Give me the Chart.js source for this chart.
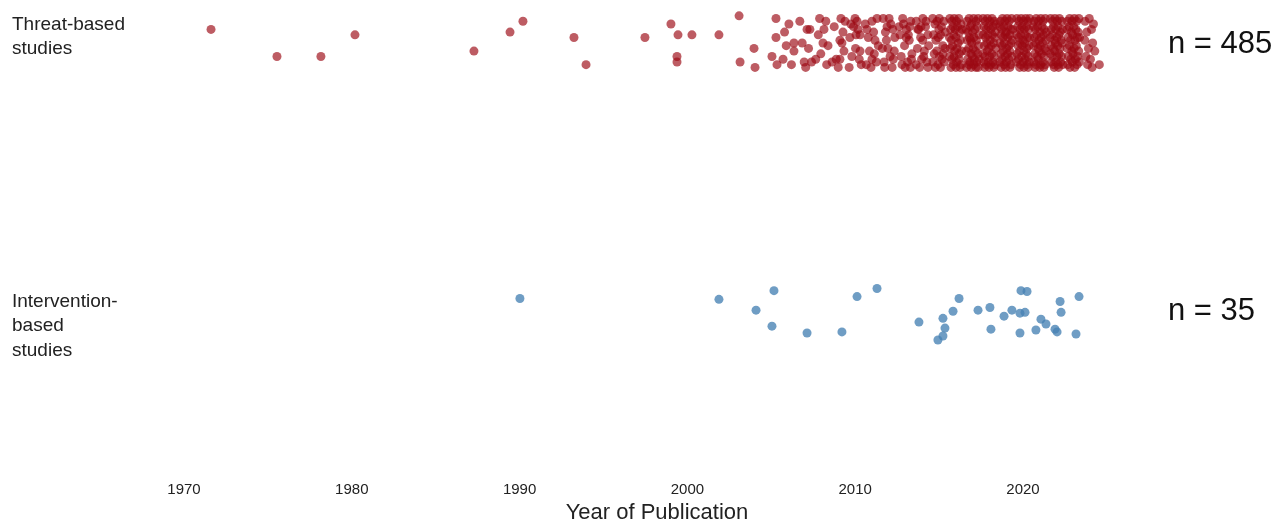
<!DOCTYPE html>
<html>
<head>
<meta charset="utf-8">
<script src="https://cdn.jsdelivr.net/npm/chart.js@4"></script>
<style>
  body { margin: 0; background: #fff; }
  #wrap { width: 1279px; height: 521px; position: relative; }
</style>
</head>
<body>
<div id="wrap"><canvas id="jitterChart"></canvas></div>
<script>
// rows on the y axis (value 2 = top row, value 1 = bottom row)
const rowValues = [2, 1];
const rowLabels = { 2: ['Threat-based', 'studies'], 1: ['Intervention-', 'based', 'studies'] };
const rowCounts = { 2: 'n = 485', 1: 'n = 35' };
const xTicks = [1970, 1980, 1990, 2000, 2010, 2020];

// threat-based studies: one entry per publication year, with the jitter [dx, dy] of each study
const threatYears = [1972, 1976, 1978, 1980, 1987, 1989, 1990, 1993, 1994, 1997, 1999, 2000, 2002, 2003, 2004, 2005,
    2006, 2007, 2008, 2009, 2010, 2011, 2012, 2013, 2014, 2015, 2016, 2017, 2018, 2019, 2020, 2021, 2022, 2023, 2024];
const threatJitter = [
    [[-.39,.05]],
    [[-.46,-.05]],
    [[.16,-.05]],
    [[.19,.03]],
    [[.28,-.03]],
    [[.43,.04]],
    [[.2,.08]],
    [[.24,.02]],
    [[-.04,-.08]],
    [[.47,.02]],
    [[.02,.07],[.44,.03],[.38,-.05],[.38,-.07]],
    [[.27,.03]],
    [[-.12,.03]],
    [[.08,.1],[.14,-.07]],
    [[-.03,-.02],[.03,-.09]],
    [[.28,.09],[.28,.02],[.04,-.05],[.34,-.08]],
    // 2006
    [[-.21,.04],[.35,0],[.35,-.03],[-.11,-.01],[.05,.07],[-.3,-.06],[.2,-.08]],
    // 2007
    [[.13,.05],[.3,.05],[.4,-.07],[-.04,-.07],[-.16,0],[.22,-.02],[-.3,.08],[.05,-.09]],
    // 2008
    [[.14,.05],[.08,0],[.38,-.01],[-.2,.03],[-.35,-.06],[.25,.08],[-.05,-.04],[.3,-.08],[-.12,.09]],
    // 2009
    [[.09,.01],[.21,0],[.39,.08],[.27,.04],[.09,-.06],[-.38,-.07],[-.13,-.06],[-.01,-.09],[.33,-.03],[-.25,.06],[.15,.09]],
    // 2010
    [[-.01,.09],[.11,.08],[.17,.05],[.29,.03],[.29,-.03],[-.32,.02],[-.2,-.05],[.36,-.08],[.02,-.02],[-.1,.06],
     [.24,-.06],[-.36,-.09],[.05,.03],[-.26,.07]],
    // 2011
    [[0,.08],[.18,.01],[0,-.06],[-.3,.05],[.3,.09],[-.15,-.03],[.26,-.07],[-.34,-.08],[.1,.04],[-.22,.02],
     [.38,-.01],[-.06,-.09],[.14,-.04],[-.4,.07]],
    // 2012
    [[-.33,.09],[-.2,.04],[-.05,-.02],[.12,.07],[.27,-.06],[.36,.02],[-.28,-.07],[.02,.09],[.2,-.09],[-.14,.01],
     [.33,-.03],[-.38,-.02],[.08,-.05],[-.1,.06],[.24,.05],[-.24,-.09]],
    // 2013
    [[.31,.08],[-.17,.09],[.05,.05],[-.33,.03],[.22,.01],[-.06,-.01],[.38,-.04],[-.26,-.05],[.12,-.07],[-.02,-.09],
     [.29,-.09],[-.39,.06],[.17,.03],[-.12,.07],[.35,-.06],[-.21,-.08],[.04,.02],[.25,.06]],
    // 2014
    [[-.36,.08],[-.22,.05],[.03,.09],[.19,.06],[.33,.03],[-.1,.02],[-.29,-.02],[.12,-.03],[.27,-.07],[-.04,-.06],
     [-.37,-.08],[.38,-.01],[-.16,-.09],[.08,-.05],[.22,.08],[-.27,.05],[.02,.01],[.34,-.09],[-.08,.06]],
    // 2015
    [[-.38,.09],[-.25,.07],[-.12,.08],[.01,.09],[.14,.06],[.28,.08],[.37,.04],[-.33,.03],[-.19,.01],[-.05,.02],
     [.09,.03],[.22,-.01],[.35,-.02],[-.29,-.04],[-.14,-.03],[.02,-.05],[.17,-.06],[.3,-.07],[-.37,-.07],[-.22,-.09],
     [-.07,-.08],[.08,-.09],[.24,-.04],[-.01,.05]],
    // 2016
    [[-.36,.09],[-.24,.08],[-.1,.09],[.04,.08],[.17,.09],[.3,.07],[-.31,.05],[-.18,.06],[-.04,.05],[.1,.06],
     [.23,.04],[.37,.05],[-.38,.02],[-.26,.01],[-.13,.03],[.01,.02],[.14,0],[.27,.01],[-.33,-.02],[-.2,-.01],
     [-.07,-.03],[.07,-.02],[.2,-.04],[.34,-.03],[-.37,-.05],[-.23,-.06],[-.11,-.05],[.04,-.07],[.18,-.06],[.31,-.08],
     [-.29,-.09],[-.15,-.08],[0,-.09],[.25,-.09]],
    // 2017
    [[-.34,.08],[-.21,.09],[-.07,.07],[.06,.09],[.2,.08],[.33,.09],[-.39,.05],[-.27,.04],[-.14,.06],[0,.04],
     [.13,.05],[.27,.06],[.39,.03],[-.32,.01],[-.19,.02],[-.05,0],[.08,.02],[.22,.01],[.35,-.01],[-.37,-.03],
     [-.24,-.02],[-.1,-.04],[.03,-.02],[.16,-.03],[.3,-.04],[-.3,-.06],[-.17,-.07],[-.02,-.05],[.11,-.06],[.25,-.07],
     [.38,-.06],[-.36,-.09],[-.22,-.08],[-.08,-.09],[.06,-.08],[.19,-.09],[.33,-.09],[-.12,.01]],
    // 2018
    [[-.38,.09],[-.25,.08],[-.12,.09],[.02,.08],[.15,.09],[.29,.08],[.4,.07],[-.33,.06],[-.2,.05],[-.06,.06],
     [.08,.05],[.21,.06],[.35,.04],[-.36,.03],[-.23,.02],[-.1,.03],[.04,.01],[.18,.03],[.31,.02],[-.3,-.01],
     [-.16,0],[-.03,-.02],[.11,-.01],[.25,0],[.38,-.02],[-.39,-.04],[-.26,-.05],[-.13,-.03],[.01,-.05],[.14,-.04],
     [.28,-.05],[-.34,-.07],[-.2,-.08],[-.07,-.07],[.07,-.08],[.21,-.07],[.35,-.08],[-.28,-.09],[-.02,-.09],[.26,-.09]],
    // 2019
    [[-.35,.08],[-.22,.09],[-.09,.08],[.05,.09],[.18,.08],[.32,.09],[-.39,.06],[-.27,.05],[-.14,.06],[-.01,.04],
     [.12,.06],[.26,.05],[.38,.05],[-.31,.03],[-.18,.02],[-.05,.03],[.09,.02],[.22,.03],[.36,.01],[-.37,0],
     [-.24,-.01],[-.11,0],[.03,-.02],[.16,-.01],[.3,0],[-.33,-.04],[-.19,-.03],[-.06,-.05],[.08,-.04],[.21,-.03],
     [.35,-.05],[-.38,-.07],[-.25,-.06],[-.12,-.08],[.01,-.07],[.15,-.06],[.28,-.08],[-.3,-.09],[-.04,-.09],[.22,-.09]],
    // 2020
    [[-.37,.09],[-.24,.08],[-.11,.09],[.03,.08],[.16,.09],[.29,.08],[.39,.09],[-.32,.06],[-.19,.05],[-.06,.06],
     [.08,.05],[.21,.06],[.34,.05],[-.38,.03],[-.26,.02],[-.13,.03],[0,.01],[.13,.03],[.27,.02],[.39,.02],
     [-.3,-.01],[-.17,0],[-.04,-.01],[.1,0],[.23,-.02],[.36,-.01],[-.35,-.04],[-.22,-.03],[-.08,-.05],[.05,-.03],
     [.19,-.04],[.32,-.05],[-.39,-.07],[-.27,-.06],[-.14,-.08],[0,-.07],[.13,-.06],[.26,-.08],[.38,-.07],[-.2,-.09],
     [.06,-.09],[.31,-.09]],
    // 2021
    [[-.34,.08],[-.21,.09],[-.08,.08],[.06,.09],[.19,.08],[.33,.09],[-.38,.06],[-.26,.05],[-.13,.06],[.01,.04],
     [.14,.06],[.27,.05],[.39,.04],[-.32,.02],[-.19,.03],[-.05,.01],[.09,.02],[.22,.03],[.36,.01],[-.37,-.01],
     [-.24,0],[-.1,-.02],[.03,-.01],[.17,0],[.31,-.02],[-.3,-.04],[-.16,-.05],[-.03,-.03],[.11,-.04],[.25,-.05],
     [.38,-.03],[-.36,-.07],[-.23,-.08],[-.09,-.06],[.05,-.08],[.18,-.07],[.32,-.08],[-.28,-.09],[0,-.09],[.24,-.09]],
    // 2022
    [[-.36,.09],[-.23,.08],[-.1,.09],[.04,.08],[.17,.09],[.3,.08],[-.31,.05],[-.18,.06],[-.05,.05],[.09,.06],
     [.22,.04],[.36,.05],[-.38,.02],[-.25,.03],[-.12,.01],[.02,.02],[.15,.03],[.28,.01],[-.33,-.01],[-.2,-.02],
     [-.07,0],[.07,-.01],[.2,-.02],[.34,0],[-.37,-.04],[-.24,-.05],[-.11,-.03],[.03,-.05],[.16,-.04],[.3,-.05],
     [-.32,-.07],[-.18,-.08],[-.04,-.07],[.1,-.08],[.24,-.07],[.37,-.08],[-.14,-.09],[.12,-.09]],
    // 2023
    [[-.35,.08],[-.22,.09],[-.08,.08],[.06,.09],[.2,.08],[.33,.09],[-.38,.05],[-.25,.06],[-.12,.04],[.02,.06],
     [.15,.05],[.29,.04],[-.31,.02],[-.17,.01],[-.04,.03],[.1,.01],[.24,.02],[.37,.02],[-.36,-.02],[-.23,-.01],
     [-.09,-.03],[.05,-.02],[.18,-.01],[.32,-.03],[-.3,-.05],[-.16,-.06],[-.02,-.04],[.12,-.06],[.26,-.05],[-.34,-.08],
     [-.2,-.09],[-.06,-.07],[.08,-.09],[.22,-.08],[.36,-.07]],
    // 2024
    [[-.3,.08],[-.05,.09],[.2,.07],[-.2,.04],[.08,.05],[-.32,.01],[.15,0],[-.1,-.02],[.28,-.03],[-.25,-.05],
     [.02,-.06],[-.15,-.08],[.12,-.09],[.55,-.08]]
];

// intervention-based studies, read point by point (jittered year, row value)
const interventionX = [1990.02, 2001.88, 2005.16, 2004.09, 2005.04, 2007.13, 2009.21, 2010.11, 2011.3, 2013.8,
    2016.19, 2015.83, 2015.23, 2015.35, 2015.23, 2014.93, 2017.32, 2018.03, 2018.09, 2018.87,
    2019.34, 2019.88, 2020.24, 2019.82, 2020.12, 2019.82, 2020.77, 2021.07, 2021.37, 2021.91,
    2022.03, 2022.21, 2022.27, 2023.16, 2023.34];
const interventionY = [1.058, 1.055, 1.087, 1.015, 0.956, 0.931, 0.935, 1.065, 1.095, 0.971,
    1.058, 1.011, 0.985, 0.949, 0.92, 0.905, 1.015, 1.025, 0.945, 0.993,
    1.015, 1.087, 1.084, 1.004, 1.007, 0.931, 0.942, 0.982, 0.964, 0.945,
    0.935, 1.047, 1.007, 0.927, 1.065];

const threatPoints = [];
threatYears.forEach((year, i) => {
    threatJitter[i].forEach(p => threatPoints.push({ x: year + p[0], y: 2 + p[1] }));
});
const interventionPoints = interventionX.map((x, i) => ({ x: x, y: interventionY[i] }));

const fontFamily = "'Liberation Sans', Arial, sans-serif";

// row names on the left and the study counts on the right, placed on the y scale
const rowLabelPlugin = {
    id: 'rowLabels',
    afterDraw(chart) {
        const ctx = chart.ctx;
        const yScale = chart.scales.y;
        const shift = { 2: -6, 1: 12 };
        ctx.save();
        ctx.textBaseline = 'middle';
        ctx.textAlign = 'left';
        rowValues.forEach(v => {
            const py = yScale.getPixelForValue(v);
            const lines = rowLabels[v];
            ctx.fillStyle = '#222';
            ctx.font = '19px ' + fontFamily;
            lines.forEach((t, j) => {
                ctx.fillText(t, 12, py + shift[v] + (j - (lines.length - 1) / 2) * 24.5);
            });
            ctx.fillStyle = '#111';
            ctx.font = '31px ' + fontFamily;
            ctx.fillText(rowCounts[v], 1168, py + (v === 1 ? -3 : 1));
        });
        ctx.restore();
    }
};

new Chart(document.getElementById('jitterChart'), {
    type: 'scatter',
    data: {
        datasets: [{
            label: 'Threat-based studies',
            data: threatPoints,
            backgroundColor: 'rgba(155, 8, 18, 0.66)',
            borderWidth: 0,
            pointRadius: 4.5
        }, {
            label: 'Intervention-based studies',
            data: interventionPoints,
            backgroundColor: 'rgba(70, 130, 180, 0.78)',
            borderWidth: 0,
            pointRadius: 4.5
        }]
    },
    options: {
        responsive: true,
        maintainAspectRatio: false,
        animation: false,
        layout: { padding: { left: 167, top: 0, right: 132, bottom: 0 } },
        plugins: {
            legend: { display: false },
            tooltip: { enabled: false }
        },
        scales: {
            x: {
                type: 'linear',
                min: 1968.987,
                max: 2027.39,
                afterBuildTicks: scale => { scale.ticks = xTicks.map(v => ({ value: v })); },
                grid: { display: false, drawTicks: false },
                border: { display: false },
                ticks: {
                    padding: 2,
                    color: '#222',
                    font: { size: 15, family: fontFamily },
                    callback: v => String(v)
                },
                title: {
                    display: true,
                    text: 'Year of Publication',
                    color: '#222',
                    padding: { top: 4, bottom: 0 },
                    font: { size: 22, family: fontFamily, lineHeight: 0.75 }
                }
            },
            y: {
                type: 'linear',
                display: false,
                min: 0.3945,
                max: 2.1418
            }
        }
    },
    plugins: [rowLabelPlugin]
});
</script>
</body>
</html>
